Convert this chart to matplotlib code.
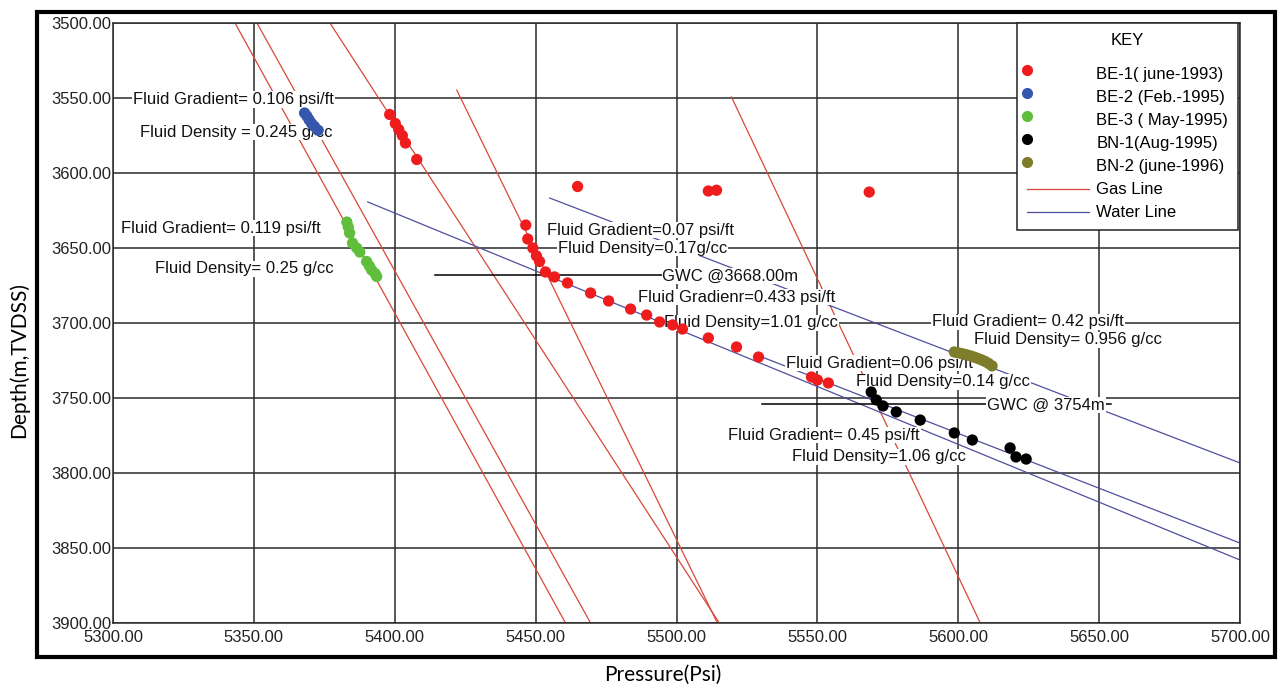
import matplotlib
matplotlib.use("Agg")
import matplotlib.pyplot as plt
import numpy as np
from matplotlib.lines import Line2D
from matplotlib.legend_handler import HandlerLine2D
from matplotlib.patches import Rectangle

plt.rcParams["font.family"] = ["Liberation Sans", "DejaVu Sans"]

# pressure (psi) / depth (m TVDSS) readings per well
be1_p = [5398.2, 5400.2, 5401.4, 5402.7, 5403.8, 5407.8,
         5464.9, 5511.3, 5514.2, 5568.4,
         5446.5, 5447.2, 5449.0, 5450.3, 5451.4, 5453.5, 5456.7, 5461.3, 5469.5,
         5475.9, 5483.7, 5489.4, 5494.0, 5498.6, 5502.1, 5511.3, 5521.3, 5529.1,
         5547.9, 5550.0, 5553.9]
be1_d = [3561, 3567, 3571, 3575, 3580, 3591,
         3609, 3612, 3611.5, 3612.7,
         3634.7, 3644, 3650, 3655.3, 3659, 3666, 3669.3, 3673.3, 3680,
         3685.3, 3690.7, 3694.7, 3699.3, 3701.3, 3704, 3710, 3716, 3722.7,
         3736, 3738, 3740]

be2_p = [5368.0, 5368.8, 5369.6, 5370.5, 5371.5, 5372.8]
be2_d = [3560, 3562, 3564.5, 3567, 3569, 3571.5]

be3_p = [5383.0, 5383.5, 5384.0, 5385.0, 5386.5, 5387.6, 5390.0, 5391.0, 5391.8, 5393.0, 5393.6]
be3_d = [3632.7, 3636, 3640, 3646.7, 3650, 3652.7, 3659, 3662, 3664.7, 3667, 3669]

bn1_p = [5569.1, 5570.9, 5573.3, 5578.0, 5586.5, 5598.6, 5605.0, 5618.4, 5620.5, 5624.1]
bn1_d = [3746.0, 3751.3, 3755.3, 3759.3, 3764.7, 3773.3, 3778.0, 3783.3, 3789.3, 3790.7]

bn2_p = [5598.6, 5599.8, 5601.0, 5602.3, 5603.5, 5604.8, 5606.0, 5607.2, 5608.4, 5609.6, 5610.8, 5612.0]
bn2_d = [3719.3, 3719.8, 3720.3, 3720.9, 3721.5, 3722.2, 3723.0, 3723.8, 3724.7, 3725.7, 3727.0, 3728.6]

# gradient lines: (p_start, d_start, p_end, d_end)
gas_lines = [(5343.3, 3500, 5460.6, 3900),
             (5351.1, 3500, 5469.5, 3900),
             (5377.0, 3500, 5515.2, 3900),
             (5422.0, 3544.7, 5514.5, 3900),
             (5519.5, 3549.3, 5607.8, 3900)]
water_lines = [(5390.4, 3619.3, 5700, 3858.0),
               (5529.4, 3722.0, 5700, 3846.7),
               (5455.0, 3616.7, 5700, 3793.3)]

# GWC contacts: depth, p_from, p_to
gwc = [(3668, 5414.2, 5495.0), (3754, 5530.5, 5654.3)]

labels = [
    (5307.1, 3551.0, "Fluid Gradient= 0.106 psi/ft"),
    (5309.6, 3572.7, "Fluid Density = 0.245 g/cc"),
    (5302.8, 3636.7, "Fluid Gradient= 0.119 psi/ft"),
    (5314.9, 3664.0, "Fluid Density= 0.25 g/cc"),
    (5453.9, 3638.0, "Fluid Gradient=0.07 psi/ft"),
    (5457.8, 3650.0, "Fluid Density=0.17g/cc"),
    (5495.0, 3668.7, "GWC @3668.00m"),
    (5486.5, 3682.7, "Fluid Gradienr=0.433 psi/ft"),
    (5495.7, 3700.0, "Fluid Density=1.01 g/cc"),
    (5590.8, 3699.3, "Fluid Gradient= 0.42 psi/ft"),
    (5605.7, 3711.3, "Fluid Density= 0.956 g/cc"),
    (5538.7, 3726.7, "Fluid Gradient=0.06 psi/ft"),
    (5563.8, 3739.3, "Fluid Density=0.14 g/cc"),
    (5610.3, 3754.7, "GWC @ 3754m"),
    (5518.4, 3774.7, "Fluid Gradient= 0.45 psi/ft"),
    (5541.1, 3789.3, "Fluid Density=1.06 g/cc"),
]

series = [
    (be1_p, be1_d, "#ee1c1c", "BE-1( june-1993)"),
    (be2_p, be2_d, "#3457ad", "BE-2 (Feb.-1995)"),
    (be3_p, be3_d, "#5fbf3c", "BE-3 ( May-1995)"),
    (bn1_p, bn1_d, "#000000", "BN-1(Aug-1995)"),
    (bn2_p, bn2_d, "#7d7d2c", "BN-2 (june-1996)"),
]
gas_color = "#d8473a"
water_color = "#4f4f9e"


class KeyMarker(HandlerLine2D):
    # marker sits at the left of the handle, a bit above the text
    def create_artists(self, legend, orig_handle, xdescent, ydescent,
                       width, height, fontsize, trans):
        arts = super().create_artists(legend, orig_handle, xdescent, ydescent,
                                      width, height, fontsize, trans)
        for a in arts:
            n = len(a.get_xdata())
            a.set_xdata([-xdescent + 0.0 * width] * n)
            a.set_ydata(np.asarray(a.get_ydata()) + 0.35 * height)
        return arts


fig = plt.figure(figsize=(12.82, 6.87), dpi=100)
ax = fig.add_axes([113 / 1282, 1 - 623 / 687, 1127 / 1282, 600 / 687])

for p0, d0, p1, d1 in gas_lines:
    ax.plot([p0, p1], [d0, d1], color=gas_color, lw=0.9, zorder=2)
for p0, d0, p1, d1 in water_lines:
    ax.plot([p0, p1], [d0, d1], color=water_color, lw=0.9, zorder=2)
for d, p0, p1 in gwc:
    ax.plot([p0, p1], [d, d], color="black", lw=1.1, zorder=2)

for x, y, s in labels:
    ax.text(x, y, s, fontsize=12, ha="left", va="center", color="#111111", zorder=4,
            bbox=dict(fc="white", ec="none", pad=0.6))

for p, d, c, name in series:
    ax.scatter(p, d, s=66, color=c, edgecolors="none", zorder=6)

ax.set_xlim(5300, 5700)
ax.set_ylim(3900, 3500)
ax.set_xticks(np.arange(5300, 5701, 50))
ax.set_yticks(np.arange(3500, 3901, 50))
ax.xaxis.set_major_formatter(matplotlib.ticker.FormatStrFormatter("%.2f"))
ax.yaxis.set_major_formatter(matplotlib.ticker.FormatStrFormatter("%.2f"))
ax.tick_params(length=0, labelsize=12, labelcolor="#222222")
ax.tick_params(axis="y", pad=1)
ax.tick_params(axis="x", pad=5)
ax.grid(True, color="#2a2a2a", lw=1.1)
ax.set_axisbelow(True)
for sp in ax.spines.values():
    sp.set_color("#2a2a2a")
    sp.set_linewidth(1.1)

handles = [Line2D([], [], ls="none", marker="o", ms=7, color=c) for _, _, c, _ in series]
handles += [Line2D([], [], color=gas_color, lw=0.9), Line2D([], [], color=water_color, lw=0.9)]
names = [s[3] for s in series] + ["Gas Line", "Water Line"]
hmap = {h: KeyMarker() for h in handles[:5]}
leg = ax.legend(handles, names, title="KEY", loc="upper right", bbox_to_anchor=(0.9985, 1.0),
                borderaxespad=0, fontsize=12, title_fontsize=12, handlelength=3.7,
                handletextpad=0.45, labelspacing=0.48, borderpad=0.6, fancybox=False,
                framealpha=1, edgecolor="#222222", handler_map=hmap)
leg.get_frame().set_linewidth(1.1)
leg.set_zorder(8)
# extra gap between the KEY title and the entries
leg._legend_box.sep = 14

fig.add_artist(Rectangle((37 / 1282, 1 - 657 / 687), 1238 / 1282, 645 / 687,
                         transform=fig.transFigure, fill=False, lw=3, ec="black"))

fig.text(663 / 1282, 1 - 675 / 687, "Pressure(Psi)", fontsize=15, family="Lato",
         ha="center", va="center")
fig.text(19 / 1282, 1 - 360 / 687, "Depth(m,TVDSS)", fontsize=15, family="Lato",
         ha="center", va="center", rotation=90)

fig.savefig("out.png", dpi=100)
